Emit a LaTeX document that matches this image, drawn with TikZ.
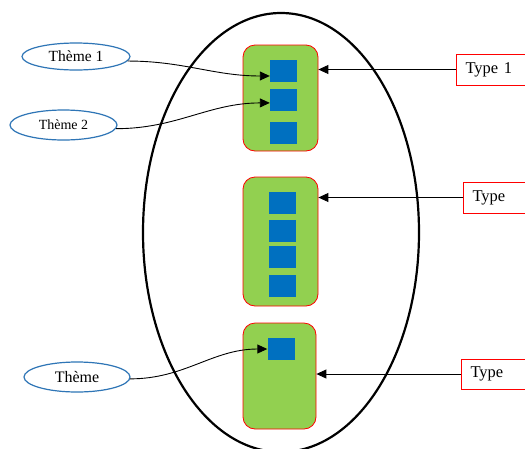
\documentclass[tikz,border=0pt]{standalone}
\usepackage{fontspec}
\setmainfont{Liberation Serif}
\usetikzlibrary{arrows.meta,shapes.geometric}
\definecolor{grn}{HTML}{92D050}
\definecolor{blu}{HTML}{0070C0}
\definecolor{thm}{HTML}{2E75B6}
\begin{document}
\begin{tikzpicture}[x=1pt,y=-1pt,
  gbox/.style={draw=red, fill=grn, rounded corners=12pt, line width=0.8pt},
  sq/.style={fill=blu, minimum width=27pt, minimum height=22pt, inner sep=0pt},
  theme/.style={ellipse, draw=thm, line width=1.2pt, inner sep=0pt},
  typebox/.style={draw=red, line width=1pt, anchor=west, align=left, inner xsep=9pt,
    text width=62pt, minimum height=31pt, font=\fontsize{16.5}{18}\selectfont},
  link/.style={-{Triangle[length=10pt,width=9pt]}, line width=0.9pt}]
\clip (0,0) rectangle (525,448);
\fill[white] (0,0) rectangle (525,448);
% big ellipse
\draw[line width=2.2pt] (281,232.5) ellipse [x radius=138, y radius=219.5];
% green boxes
\node[gbox, minimum width=75pt, minimum height=106pt] (gb1) at (280.5,98){};
\node[gbox, minimum width=75pt, minimum height=129pt] (gb2) at (280.5,241.5){};
\node[gbox, minimum width=73pt, minimum height=106pt] (gb3) at (279.5,376){};
% blue squares
\node[sq] (s11) at (283.5,71){};
\node[sq] (s12) at (283.5,100){};
\node[sq] (s13) at (283.5,132.5){};
\node[sq] (s21) at (282,203){};
\node[sq] (s22) at (282,231){};
\node[sq] (s23) at (282,257){};
\node[sq] (s24) at (282,286){};
\node[sq] (s31) at (281,349){};
% themes
\node[theme, minimum width=108pt, minimum height=27pt, font=\fontsize{15.5}{17}\selectfont] (th1) at (76,56.5){Thème 1};
\node[theme, minimum width=107pt, minimum height=30pt, font=\fontsize{14}{16}\selectfont] (th2) at (63.5,125){Thème 2};
\node[theme, minimum width=106pt, minimum height=30pt, font=\fontsize{16}{17}\selectfont] (th3) at (77,377){Thème};
% types
\node[typebox] (ty1) at (456,69.5){Type 1};
\node[typebox] (ty2) at (463,197.5){Type};
\node[typebox, minimum height=30pt] (ty3) at (461,374){Type};
% arrows
\draw[link] (ty1.west) -- (ty1.west -| gb1.east);
\draw[link] (ty2.west) -- (ty2.west -| gb2.east);
\draw[link] (ty3.west) -- (ty3.west -| gb3.east);
\draw[link] (th1.-5) to[out=0, in=180] (s11.200);
\draw[link] (th2.-4) to[out=0, in=180] (s12.192);
\draw[link] (th3.-2) to[out=0, in=180] (s31.west);
\end{tikzpicture}
\end{document}
